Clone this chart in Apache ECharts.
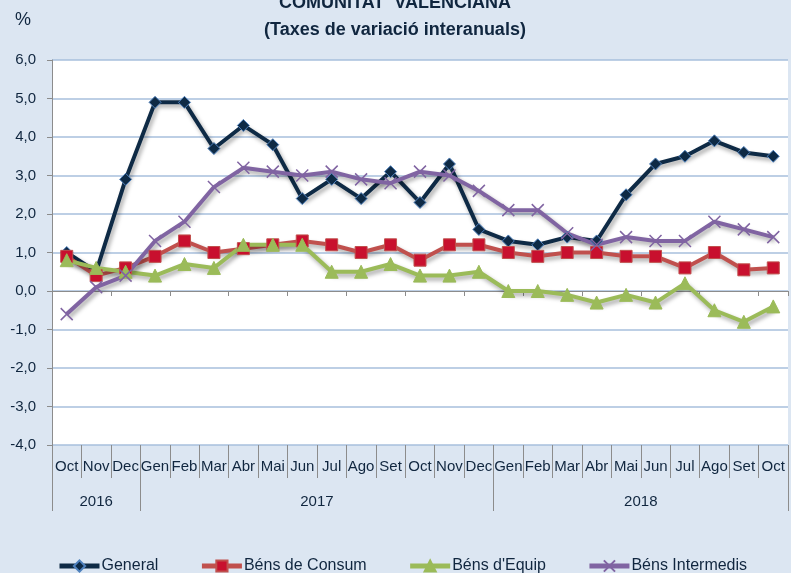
<!DOCTYPE html>
<html>
<head>
<meta charset="utf-8">
<script src="https://cdn.jsdelivr.net/npm/echarts@6/dist/echarts.min.js"></script>
<style>
  html, body { margin: 0; padding: 0; background: #dce6f2; }
  #main { width: 791px; height: 573px; }
</style>
</head>
<body>
<div id="main"></div>
<script>
// Month labels (Oct 2016 .. Oct 2018)
const months = ["Oct", "Nov", "Dec", "Gen", "Feb", "Mar", "Abr", "Mai", "Jun", "Jul", "Ago", "Set",
  "Oct", "Nov", "Dec", "Gen", "Feb", "Mar", "Abr", "Mai", "Jun", "Jul", "Ago", "Set", "Oct"];
// Year groups: label, centre on the month scale, first month index of the group
const years = ["2016", "2017", "2018"];
const yearCentres = [1.5, 9, 20];
const yearStarts = [0, 3, 15];

const general = [1.0, 0.5, 2.9, 4.9, 4.9, 3.7, 4.3, 3.8, 2.4, 2.9, 2.4, 3.1,
  2.3, 3.3, 1.6, 1.3, 1.2, 1.4, 1.3, 2.5, 3.3, 3.5, 3.9, 3.6, 3.5];
const consum = [0.9, 0.4, 0.6, 0.9, 1.3, 1.0, 1.1, 1.2, 1.3, 1.2, 1.0, 1.2,
  0.8, 1.2, 1.2, 1.0, 0.9, 1.0, 1.0, 0.9, 0.9, 0.6, 1.0, 0.55, 0.6];
const equip = [0.8, 0.6, 0.5, 0.4, 0.7, 0.6, 1.2, 1.2, 1.2, 0.5, 0.5, 0.7,
  0.4, 0.4, 0.5, 0.0, 0.0, -0.1, -0.3, -0.1, -0.3, 0.2, -0.5, -0.8, -0.4];
const intermedis = [-0.6, 0.1, 0.4, 1.3, 1.8, 2.7, 3.2, 3.1, 3.0, 3.1, 2.9, 2.8,
  3.1, 3.0, 2.6, 2.1, 2.1, 1.5, 1.2, 1.4, 1.3, 1.3, 1.8, 1.6, 1.4];

const font = "'Liberation Sans', sans-serif";
const navy = "#10263f";
const grey = "#8c8c8c";
const shadow = { shadowColor: "rgba(0,0,0,0.35)", shadowBlur: 4, shadowOffsetX: 2, shadowOffsetY: 3 };

function makeSeries(name, data, color, symbol, symbolSize, itemStyle) {
  return {
    name: name,
    type: "line",
    data: data,
    xAxisIndex: 0,
    symbol: symbol,
    symbolSize: symbolSize,
    showSymbol: true,
    lineStyle: Object.assign({ color: color, width: 4 }, shadow),
    itemStyle: itemStyle,
    emphasis: { disabled: true },
  };
}

const chart = echarts.init(document.getElementById("main"));
chart.setOption({
  animation: false,
  backgroundColor: "#dce6f2",
  textStyle: { fontFamily: font },
  title: [
    {
      text: "COMUNITAT  VALENCIANA",
      left: 390,
      textAlign: "center",
      top: -12,
      textStyle: { fontFamily: font, fontSize: 18, fontWeight: "bold", color: navy, lineHeight: 20 },
    },
    {
      text: "(Taxes de variació interanuals)",
      left: 390,
      textAlign: "center",
      top: 15,
      textStyle: { fontFamily: font, fontSize: 18, fontWeight: "bold", color: navy, lineHeight: 20 },
    },
    {
      text: "%",
      left: 10,
      top: 6,
      textStyle: { fontFamily: font, fontSize: 18, fontWeight: "normal", color: navy },
    },
  ],
  legend: {
    top: 553,
    left: 52,
    itemGap: 41,
    itemWidth: 40,
    itemHeight: 14,
    lineStyle: { width: 5 },
    textStyle: { fontFamily: font, fontSize: 16, color: navy, padding: [0, 0, 0, -3] },
    data: ["General", "Béns de Consum", "Béns d'Equip", "Béns Intermedis"],
  },
  grid: {
    left: 52,
    right: 0,
    top: 60,
    bottom: 128,
    show: true,
    backgroundColor: "#ffffff",
    borderWidth: 0,
  },
  xAxis: [
    {
      // month labels at the bottom
      type: "category",
      position: "bottom",
      data: months,
      axisLine: { show: false, onZero: false },
      axisTick: { show: true, length: 33, lineStyle: { color: grey } },
      axisLabel: { interval: 0, margin: 14, fontSize: 15, color: navy, fontFamily: font },
      splitLine: { show: false },
    },
    {
      // year separators
      type: "category",
      position: "bottom",
      data: months,
      axisLine: { show: false, onZero: false },
      axisTick: {
        show: true,
        length: 66,
        interval: (idx) => yearStarts.includes(idx),
        lineStyle: { color: grey },
      },
      axisLabel: { show: false },
      splitLine: { show: false },
    },
    {
      // year labels
      type: "value",
      position: "bottom",
      min: 0,
      max: months.length,
      interval: 0.5,
      axisLine: { show: false, onZero: false },
      axisTick: { show: false },
      axisLabel: {
        margin: 49,
        fontSize: 15,
        color: navy,
        fontFamily: font,
        formatter: (v) => {
          const i = yearCentres.indexOf(v);
          return i >= 0 ? years[i] : "";
        },
      },
      splitLine: { show: false },
    },
    {
      // zero line with short ticks
      type: "category",
      position: "bottom",
      data: months,
      axisLine: { show: true, onZero: true, lineStyle: { color: grey, width: 1 } },
      axisTick: { show: true, length: 5, lineStyle: { color: grey } },
      axisLabel: { show: false },
      splitLine: { show: false },
    },
  ],
  yAxis: {
    type: "value",
    min: -4,
    max: 6,
    interval: 1,
    axisLine: { show: true, lineStyle: { color: grey } },
    axisTick: { show: true, length: 5, lineStyle: { color: grey } },
    axisLabel: {
      margin: 16,
      fontSize: 15,
      color: navy,
      fontFamily: font,
      formatter: (v) => v.toFixed(1).replace(".", ","),
    },
    splitLine: { show: true, lineStyle: { color: "#a7bfdd", width: 1.5 } },
  },
  series: [
    makeSeries("General", general, "#0e2a45", "diamond", 12,
      { color: "#0e2a45", borderColor: "#4f81bd", borderWidth: 1 }),
    makeSeries("Béns de Consum", consum, "#c0504d", "rect", 12,
      { color: "#c8102e", borderColor: "#c0504d", borderWidth: 1 }),
    makeSeries("Béns d'Equip", equip, "#9bbb59", "triangle", 13,
      { color: "#9bbb59", borderColor: "#9bbb59", borderWidth: 1 }),
    makeSeries("Béns Intermedis", intermedis, "#8064a2", "path://M0,0L10,10M10,0L0,10", 12,
      { color: "rgba(0,0,0,0)", borderColor: "#8064a2", borderWidth: 1.5 }),
  ],
});
</script>
</body>
</html>
